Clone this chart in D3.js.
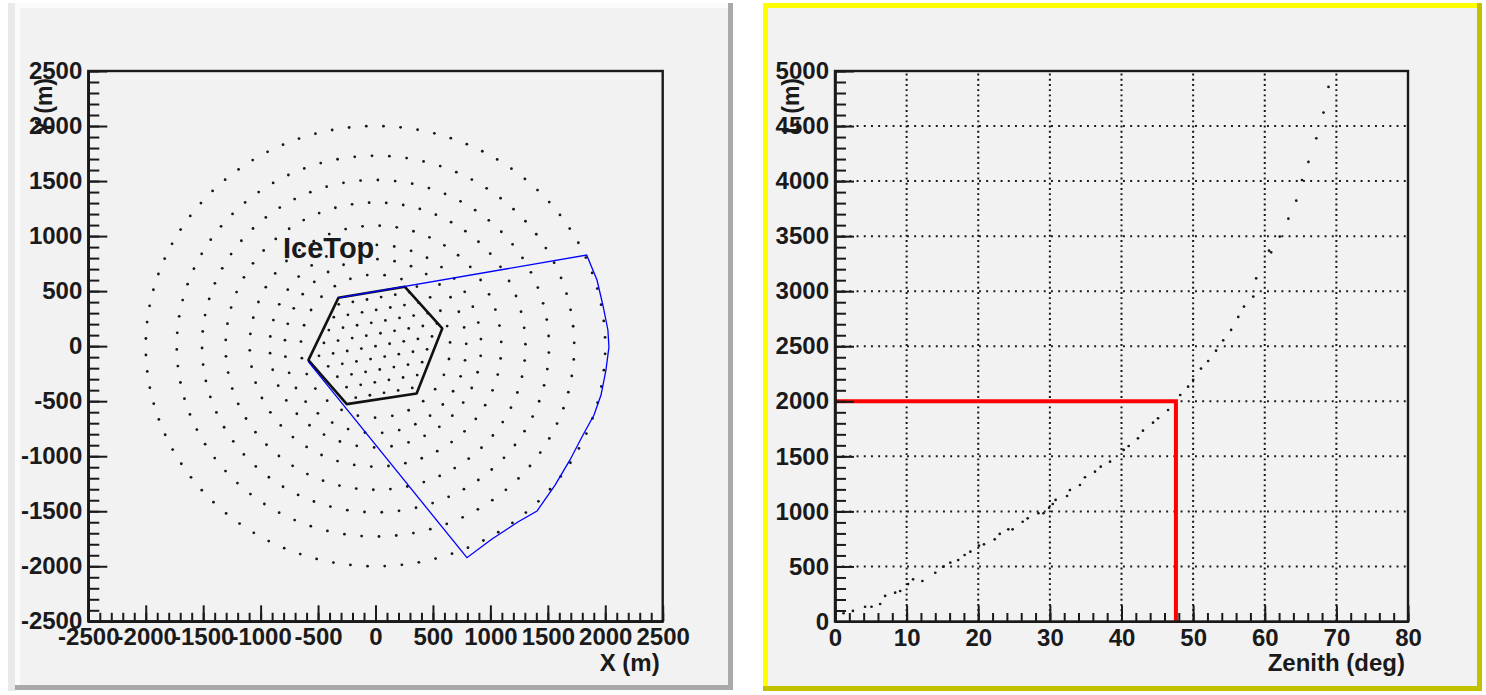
<!DOCTYPE html>
<html><head><meta charset="utf-8">
<script src="https://cdn.jsdelivr.net/npm/d3@7"></script>
<style>
html,body{margin:0;padding:0;background:#fff;}
svg{display:block;}
text{font-family:"Liberation Sans",Arial,Helvetica,sans-serif;font-weight:bold;fill:#1a1a1a;}
</style></head><body>
<svg id="c" width="1486" height="695"></svg>
<script>
// ---------- tick labels ----------
const mapTicks = [-2500,-2000,-1500,-1000,-500,0,500,1000,1500,2000,2500];
const zenithTicks = [0,10,20,30,40,50,60,70,80];
const distTicks = [0,500,1000,1500,2000,2500,3000,3500,4000,4500,5000];

// ---------- surface array: outer station rings (radius in m, stations per ring, phase in deg) ----------
const ringRadius = [2000,1730,1510,1305,1095,920,790,650];
const ringCount  = [84,72,63,55,46,38,33,27];
const ringPhase  = [2.3,1.0,3.5,0.8,2.0,4.0,1.5,3.0];

// inner (IceTop) stations, x / y in m
const innerX = [-492,-369,-246,-123,0,123,246,369,492,
  -449,-326,-203,-80,43,166,289,412,535,
  -406,-283,-160,-37,86,209,332,455,
  -363,-240,-117,6,129,252,375,
  -320,-197,-74,49,172,295,
  -412,-289,-166,-43,80,203,326,449,
  -332,-209,-86,37,160,283,406,
  -252,-129,-6,117,240,363,
  -172,-49,74,197,320];
const innerY = [-88,-66,-44,-22,0,22,44,66,88,
  29,51,73,95,117,139,161,183,205,
  146,168,190,212,234,256,278,300,
  263,285,307,329,351,373,395,
  380,402,424,446,468,490,
  -183,-161,-139,-117,-95,-73,-51,-29,
  -278,-256,-234,-212,-190,-168,-146,
  -373,-351,-329,-307,-285,-263,
  -468,-446,-424,-402,-380];

// IceTop outline (hexagon) and the selected region boundary
const hexX = [-323,256,581,358,-250,-584];
const hexY = [439,539,161,-430,-527,-127];
const regionX = [-585,796,1011,1243,1406,1563,1693,1806,1902,1963,2006,2032,2023,1979,1928,1838,-323];
const regionY = [-141,-1922,-1755,-1595,-1498,-1262,-1034,-807,-626,-444,-217,-8,147,374,601,828,439];

// ---------- distance vs zenith ----------
const zenith = [1.2,2.5,4.2,5.1,6.3,7.0,8.4,9.1,10.2,10.9,12.2,14.0,15.1,16.1,17.2,18.1,18.9,20.1,20.8,22.3,23.0,
  24.2,24.8,26.2,26.9,28.4,29.1,29.9,30.4,30.8,32.4,32.8,34.2,34.9,36.3,37.1,38.4,40.3,41.0,42.3,43.0,44.4,45.1,
  46.5,48.2,49.3,50.0,51.1,52.1,53.2,54.2,55.3,56.3,57.1,58.4,58.8,60.6,60.9,62.1,63.3,64.4,65.2,66.1,67.2,68.2,68.9];
const distance = [75,96,134,134,159,232,262,277,340,383,368,443,498,534,558,604,634,689,701,746,795,
  837,837,906,937,983,983,1034,1067,1104,1140,1194,1240,1310,1361,1406,1452,1558,1594,1664,1733,1806,1846,
  1921,2057,2133,2194,2297,2366,2460,2554,2648,2766,2860,2951,3117,3368,3353,3496,3659,3822,4010,4174,4389,4622,4855];
const cutZenith = 47.6, cutDistance = 2000;

// ---------- drawing ----------
const svg = d3.select('#c');
const FS = 24;

function pad(x0, y0, x1, y1, light, dark, fill) {
  svg.append('rect').attr('x', x0).attr('y', y0).attr('width', x1 - x0).attr('height', y1 - y0).attr('fill', light);
  svg.append('rect').attr('x', x1 - 5).attr('y', y0).attr('width', 5).attr('height', y1 - y0).attr('fill', dark);
  svg.append('rect').attr('x', x0).attr('y', y1 - 5).attr('width', x1 - x0).attr('height', 5).attr('fill', dark);
  svg.append('rect').attr('x', x0 + 5).attr('y', y0 + 5).attr('width', x1 - x0 - 10).attr('height', y1 - y0 - 10).attr('fill', fill);
}

svg.append('rect').attr('x', 8).attr('y', 3).attr('width', 7).attr('height', 688).attr('fill', '#e9e9e9');
pad(15, 3, 733, 690, '#fbfbfb', '#a9a9a9', '#f2f2f2');
pad(763, 3, 1482, 691, '#ffff00', '#c2c200', '#f2f2f2');

function axes(g, x, y, xMajor, yMajor, xMinorN, yMinorN, xTitle, yTitle) {
  const [xl, xr] = x.range(), [yb, yt] = y.range();
  const style = sel => {
    sel.select('.domain').attr('stroke', '#1a1a1a').attr('stroke-width', 2.2);
    sel.selectAll('.tick line').attr('stroke', '#1a1a1a').attr('stroke-width', 2);
    sel.selectAll('text').attr('font-size', FS).attr('font-family', null).attr('fill', '#1a1a1a');
  };
  g.append('g').attr('transform', `translate(0,${yb})`)
    .call(d3.axisBottom(x).ticks(xMinorN).tickSize(-8.5).tickSizeOuter(0).tickFormat(''))
    .call(style);
  g.append('g').attr('transform', `translate(0,${yb})`)
    .call(d3.axisBottom(x).tickValues(xMajor).tickSize(-16).tickSizeOuter(0).tickPadding(7).tickFormat(d => String(d)))
    .call(style);
  g.append('g').attr('transform', `translate(${xl},0)`)
    .call(d3.axisLeft(y).ticks(yMinorN).tickSize(-11).tickSizeOuter(0).tickFormat(''))
    .call(style);
  g.append('g').attr('transform', `translate(${xl},0)`)
    .call(d3.axisLeft(y).tickValues(yMajor).tickSize(-19).tickSizeOuter(0).tickPadding(6).tickFormat(d => String(d)))
    .call(style);
  // frame
  g.append('rect').attr('x', xl).attr('y', yt).attr('width', xr - xl).attr('height', yb - yt)
    .attr('fill', 'none').attr('stroke', '#1a1a1a').attr('stroke-width', 2.4);
  g.append('text').attr('x', xr - 3).attr('y', 670.5).attr('text-anchor', 'end').attr('font-size', FS).text(xTitle);
  g.append('text').attr('transform', `translate(${xl - 36},${yt + 7}) rotate(-90)`)
    .attr('text-anchor', 'end').attr('font-size', FS - 1).text(yTitle);
}

// ----- left: station map -----
const xL = d3.scaleLinear().domain([-2500, 2500]).range([88.3, 662.7]);
const yL = d3.scaleLinear().domain([-2500, 2500]).range([621.3, 71]);
const gL = svg.append('g');

const outer = [];
ringRadius.forEach((r, k) => {
  for (let i = 0; i < ringCount[k]; i++) {
    const a = (ringPhase[k] + i * 360 / ringCount[k]) * Math.PI / 180;
    outer.push([r * Math.cos(a), r * Math.sin(a)]);
  }
});
const inner = innerX.map((v, i) => [v, innerY[i]]);

gL.append('g').selectAll('circle').data(outer.concat(inner)).join('circle')
  .attr('cx', d => xL(d[0])).attr('cy', d => yL(d[1])).attr('r', 1.4).attr('fill', '#161616');

const line = d3.line().x(d => xL(d[0])).y(d => yL(d[1]));
const hex = hexX.map((v, i) => [v, hexY[i]]);
gL.append('path').attr('d', line(hex) + 'Z').attr('fill', 'none').attr('stroke', '#111').attr('stroke-width', 2.6)
  .attr('stroke-linejoin', 'round');
gL.append('path').attr('d', line(regionX.map((v, i) => [v, regionY[i]])))
  .attr('fill', 'none').attr('stroke', '#0000ff').attr('stroke-width', 1.3);

gL.append('text').attr('x', xL(-805)).attr('y', yL(800)).attr('font-size', 29).attr('fill', '#222').text('IceTop');

axes(gL, xL, yL, mapTicks, mapTicks, 50, 50, 'X (m)', 'Y (m)');

// ----- right: distance vs zenith -----
const xR = d3.scaleLinear().domain([0, 80]).range([835, 1408]);
const yR = d3.scaleLinear().domain([0, 5000]).range([621.5, 71]);
const gR = svg.append('g');

gR.append('g').selectAll('line').data(zenithTicks.slice(1, -1)).join('line')
  .attr('x1', d => xR(d)).attr('x2', d => xR(d)).attr('y1', yR(0)).attr('y2', yR(5000))
  .attr('stroke', '#161616').attr('stroke-width', 2).attr('stroke-dasharray', '1.9,3.3');
gR.append('g').selectAll('line').data(distTicks.slice(1, -1)).join('line')
  .attr('x1', xR(0)).attr('x2', xR(80)).attr('y1', d => yR(d)).attr('y2', d => yR(d))
  .attr('stroke', '#161616').attr('stroke-width', 2).attr('stroke-dasharray', '1.9,5.3');

gR.append('g').selectAll('circle').data(zenith).join('circle')
  .attr('cx', d => xR(d)).attr('cy', (d, i) => yR(distance[i])).attr('r', 1.35).attr('fill', '#161616');

gR.append('path')
  .attr('d', line.x(d => xR(d[0])).y(d => yR(d[1]))([[0, cutDistance], [cutZenith, cutDistance], [cutZenith, 0]]))
  .attr('fill', 'none').attr('stroke', '#ff0000').attr('stroke-width', 4);

axes(gR, xR, yR, zenithTicks, distTicks, 40, 50, 'Zenith (deg)', 'L (m)');
</script>
</body></html>
